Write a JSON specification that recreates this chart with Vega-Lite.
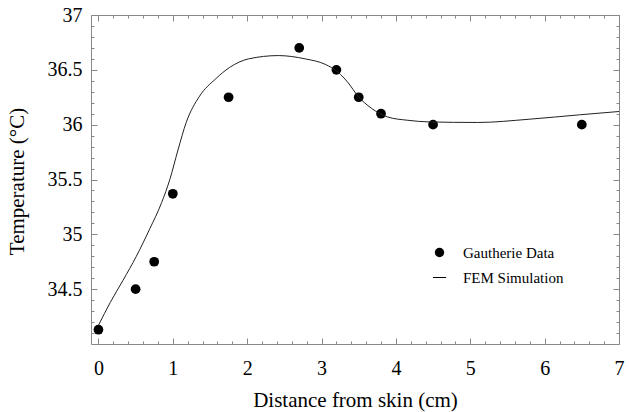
{
  "$schema": "https://vega.github.io/schema/vega-lite/v6.json",
  "autosize": {"type": "none"},
  "padding": {"left": 91, "top": 15, "right": 10, "bottom": 68},
  "width": 528,
  "height": 329,
  "background": "white",
  "config": {
    "view": {"stroke": "#888888", "strokeWidth": 1},
    "font": "Liberation Serif",
    "axis": {
      "labelFont": "Liberation Serif",
      "titleFont": "Liberation Serif",
      "labelColor": "black",
      "titleColor": "black",
      "labelFontSize": 20,
      "titleFontSize": 21,
      "titleFontWeight": "normal",
      "tickColor": "#888888",
      "tickWidth": 1,
      "domain": false,
      "grid": false,
      "labelFlush": false,
      "labelOverlap": false
    }
  },
  "datasets": {
    "gautherie": [
      {"distance": 0.0, "temp": 34.13, "series": "Gautherie Data"},
      {"distance": 0.5, "temp": 34.5, "series": "Gautherie Data"},
      {"distance": 0.75, "temp": 34.75, "series": "Gautherie Data"},
      {"distance": 1.0, "temp": 35.37, "series": "Gautherie Data"},
      {"distance": 1.75, "temp": 36.25, "series": "Gautherie Data"},
      {"distance": 2.7, "temp": 36.7, "series": "Gautherie Data"},
      {"distance": 3.2, "temp": 36.5, "series": "Gautherie Data"},
      {"distance": 3.5, "temp": 36.25, "series": "Gautherie Data"},
      {"distance": 3.8, "temp": 36.1, "series": "Gautherie Data"},
      {"distance": 4.5, "temp": 36.0, "series": "Gautherie Data"},
      {"distance": 6.5, "temp": 36.0, "series": "Gautherie Data"}
    ],
    "fem": [
      {"distance": 0.0, "temp": 34.17},
      {"distance": 0.16, "temp": 34.38},
      {"distance": 0.33, "temp": 34.58},
      {"distance": 0.51, "temp": 34.8},
      {"distance": 0.69, "temp": 35.05},
      {"distance": 0.85, "temp": 35.29},
      {"distance": 0.96, "temp": 35.5},
      {"distance": 1.07, "temp": 35.77},
      {"distance": 1.18, "temp": 36.02},
      {"distance": 1.36, "temp": 36.26},
      {"distance": 1.58, "temp": 36.42},
      {"distance": 1.76, "temp": 36.52},
      {"distance": 2.02, "temp": 36.6},
      {"distance": 2.42, "temp": 36.63},
      {"distance": 2.78, "temp": 36.6},
      {"distance": 3.05, "temp": 36.55},
      {"distance": 3.22, "temp": 36.48},
      {"distance": 3.36, "temp": 36.38},
      {"distance": 3.49, "temp": 36.26},
      {"distance": 3.67, "temp": 36.15},
      {"distance": 3.89, "temp": 36.07},
      {"distance": 4.16, "temp": 36.04},
      {"distance": 4.45, "temp": 36.025},
      {"distance": 5.1, "temp": 36.02},
      {"distance": 5.8, "temp": 36.05},
      {"distance": 6.47, "temp": 36.09},
      {"distance": 7.0, "temp": 36.12}
    ]
  },
  "resolve": {"axis": {"x": "independent", "y": "independent"}},
  "layer": [
    {
      "data": {"name": "gautherie"},
      "mark": {"type": "point", "filled": true, "color": "black", "opacity": 1, "size": 95, "clip": true},
      "encoding": {
        "x": {
          "field": "distance", "type": "quantitative",
          "scale": {"domain": [-0.1, 7.0], "nice": false, "zero": false},
          "axis": {
            "orient": "bottom",
            "title": "Distance from skin (cm)",
            "values": [0, 1, 2, 3, 4, 5, 6, 7],
            "format": "~g",
            "ticks": false,
            "labelPadding": 14,
            "titleBaseline": "alphabetic",
            "titleY": 62
          }
        },
        "y": {
          "field": "temp", "type": "quantitative",
          "scale": {"domain": [34.0, 37.0], "nice": false, "zero": false},
          "axis": {
            "orient": "left",
            "title": "Temperature (°C)",
            "values": [34.5, 35, 35.5, 36, 36.5, 37],
            "format": "~g",
            "ticks": false,
            "labelPadding": 9,
            "titleX": -64,
            "titleY": 166
          }
        },
        "shape": {
          "field": "series", "type": "nominal",
          "scale": {"domain": ["Gautherie Data", "FEM Simulation"], "range": ["circle", "M-1.4,-0.11L1.4,-0.11L1.4,0.11L-1.4,0.11Z"]},
          "legend": {
            "title": null,
            "orient": "none",
            "legendX": 341,
            "legendY": 230,
            "labelFont": "Liberation Serif",
            "labelFontSize": 15,
            "labelColor": "black",
            "symbolSize": 88,
            "symbolFillColor": "black",
            "symbolStrokeWidth": 0,
            "symbolOpacity": 1,
            "labelOffset": 16,
            "rowPadding": 9
          }
        }
      }
    },
    {
      "data": {"name": "fem"},
      "mark": {"type": "line", "color": "#222222", "strokeWidth": 1, "interpolate": "monotone", "clip": true},
      "encoding": {
        "x": {
          "field": "distance", "type": "quantitative",
          "axis": {"orient": "bottom", "title": null, "labels": false, "values": [0, 1, 2, 3, 4, 5, 6, 7], "tickSize": 6, "offset": -6}
        },
        "y": {
          "field": "temp", "type": "quantitative",
          "axis": {"orient": "left", "title": null, "labels": false, "values": [34.5, 35, 35.5, 36, 36.5, 37], "tickSize": 6, "offset": -6}
        }
      }
    },
    {
      "data": {"name": "fem"},
      "mark": {"type": "line", "strokeOpacity": 0, "clip": true},
      "encoding": {
        "x": {
          "field": "distance", "type": "quantitative",
          "axis": {"orient": "bottom", "title": null, "labels": false, "values": [0.2,0.4,0.6,0.8,1.2,1.4,1.6,1.8,2.2,2.4,2.6,2.8,3.2,3.4,3.6,3.8,4.2,4.4,4.6,4.8,5.2,5.4,5.6,5.8,6.2,6.4,6.6,6.8], "tickSize": 3, "offset": -3}
        },
        "y": {
          "field": "temp", "type": "quantitative",
          "axis": {"orient": "left", "title": null, "labels": false, "values": [34.1,34.2,34.3,34.4,34.6,34.7,34.8,34.9,35.1,35.2,35.3,35.4,35.6,35.7,35.8,35.9,36.1,36.2,36.3,36.4,36.6,36.7,36.8,36.9], "tickSize": 3, "offset": -3}
        }
      }
    },
    {
      "data": {"name": "fem"},
      "mark": {"type": "line", "strokeOpacity": 0, "clip": true},
      "encoding": {
        "x": {
          "field": "distance", "type": "quantitative",
          "axis": {"orient": "top", "title": null, "labels": false, "values": [0, 1, 2, 3, 4, 5, 6, 7], "tickSize": 6, "offset": -6}
        },
        "y": {
          "field": "temp", "type": "quantitative",
          "axis": {"orient": "right", "title": null, "labels": false, "values": [34.5, 35, 35.5, 36, 36.5, 37], "tickSize": 6, "offset": -6}
        }
      }
    },
    {
      "data": {"name": "fem"},
      "mark": {"type": "line", "strokeOpacity": 0, "clip": true},
      "encoding": {
        "x": {
          "field": "distance", "type": "quantitative",
          "axis": {"orient": "top", "title": null, "labels": false, "values": [0.2,0.4,0.6,0.8,1.2,1.4,1.6,1.8,2.2,2.4,2.6,2.8,3.2,3.4,3.6,3.8,4.2,4.4,4.6,4.8,5.2,5.4,5.6,5.8,6.2,6.4,6.6,6.8], "tickSize": 3, "offset": -3}
        },
        "y": {
          "field": "temp", "type": "quantitative",
          "axis": {"orient": "right", "title": null, "labels": false, "values": [34.1,34.2,34.3,34.4,34.6,34.7,34.8,34.9,35.1,35.2,35.3,35.4,35.6,35.7,35.8,35.9,36.1,36.2,36.3,36.4,36.6,36.7,36.8,36.9], "tickSize": 3, "offset": -3}
        }
      }
    }
  ]
}
